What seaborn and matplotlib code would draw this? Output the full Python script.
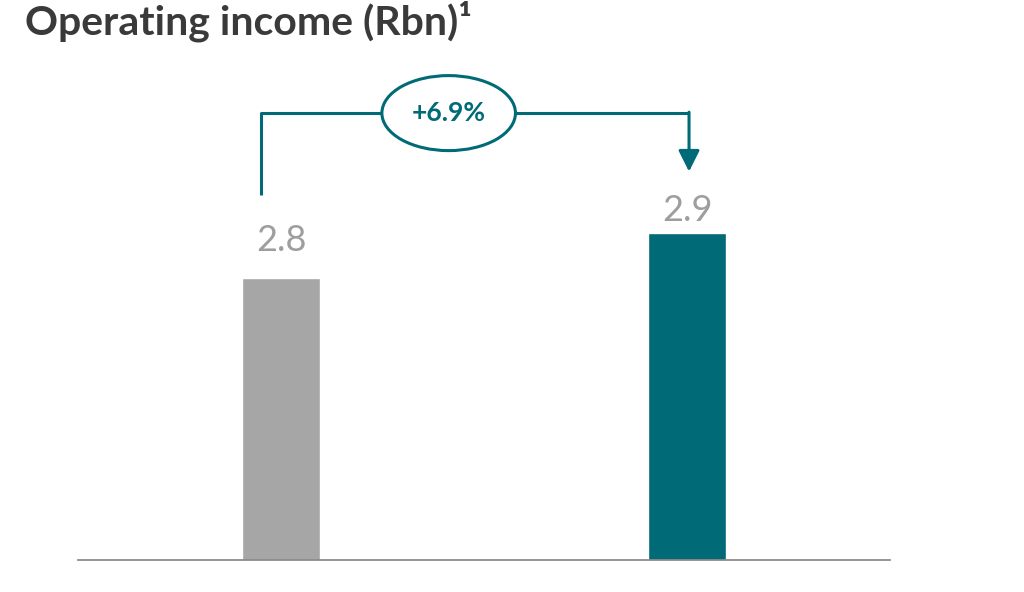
import matplotlib
matplotlib.use("Agg")
import matplotlib.pyplot as plt
from matplotlib.patches import Ellipse
import seaborn as sns

# data
periods = ["Prior period", "Current period"]
income_rbn = [2.8, 2.9]
value_labels = ["2.8", "2.9"]
growth_label = "+6.9%"
bar_colors = ["#A6A6A6", "#006B77"]

teal = "#006B77"
sns.set_style("white")
plt.rcParams["font.family"] = ["Lato", "DejaVu Sans"]

fig = plt.figure(figsize=(10.24, 5.92), dpi=100)
ax = fig.add_axes([78 / 1024, 32 / 592, 812 / 1024, 500 / 592])

sns.barplot(x=periods, y=income_rbn, hue=periods, palette=bar_colors,
            width=0.19, saturation=1, legend=False, ax=ax)

ax.set_xlim(-0.5, 1.5)
ax.set_ylim(2.173, 3.284)
ax.set_xticks([])
ax.set_yticks([])
ax.set_xlabel("")
ax.set_ylabel("")
for side in ["top", "left", "right"]:
    ax.spines[side].set_visible(False)
ax.spines["bottom"].set_color("#8C8C8C")
ax.spines["bottom"].set_linewidth(1.3)

# value labels above bars (the second one sits closer to its bar)
label_offsets = [15, 4.5]
for i, (v, lab) in enumerate(zip(income_rbn, value_labels)):
    ax.annotate(lab, xy=(i, v), xytext=(0, label_offsets[i]),
                textcoords="offset points", ha="center", va="bottom",
                fontsize=26, color="#9E9E9E")

# growth bracket with arrow
x_left, x_right = -0.049, 1.005
y_low, y_top, y_tip = 2.984, 3.166, 3.036
ax.plot([x_left, x_left, x_right], [y_low, y_top, y_top],
        color=teal, lw=2.2, solid_capstyle="butt", clip_on=False)
ax.annotate("", xy=(x_right, y_tip), xytext=(x_right, y_top + 0.002),
            arrowprops=dict(arrowstyle="-|>", color=teal, lw=2.2,
                            mutation_scale=32, shrinkA=0, shrinkB=0))
ell = Ellipse((0.413, y_top), width=0.329, height=0.1667,
              facecolor="white", edgecolor=teal, lw=2.2, zorder=5)
ax.add_patch(ell)
ax.text(0.413, y_top, growth_label, ha="center", va="center",
        fontsize=19, fontweight="bold", color=teal, zorder=6)

fig.text(25 / 1024, 1 - 34 / 592, "Operating income (Rbn)\u00b9",
         fontsize=29.5, fontweight="bold", color="#3A3A3A",
         ha="left", va="baseline")

fig.savefig("out.png", dpi=100, facecolor="white")
